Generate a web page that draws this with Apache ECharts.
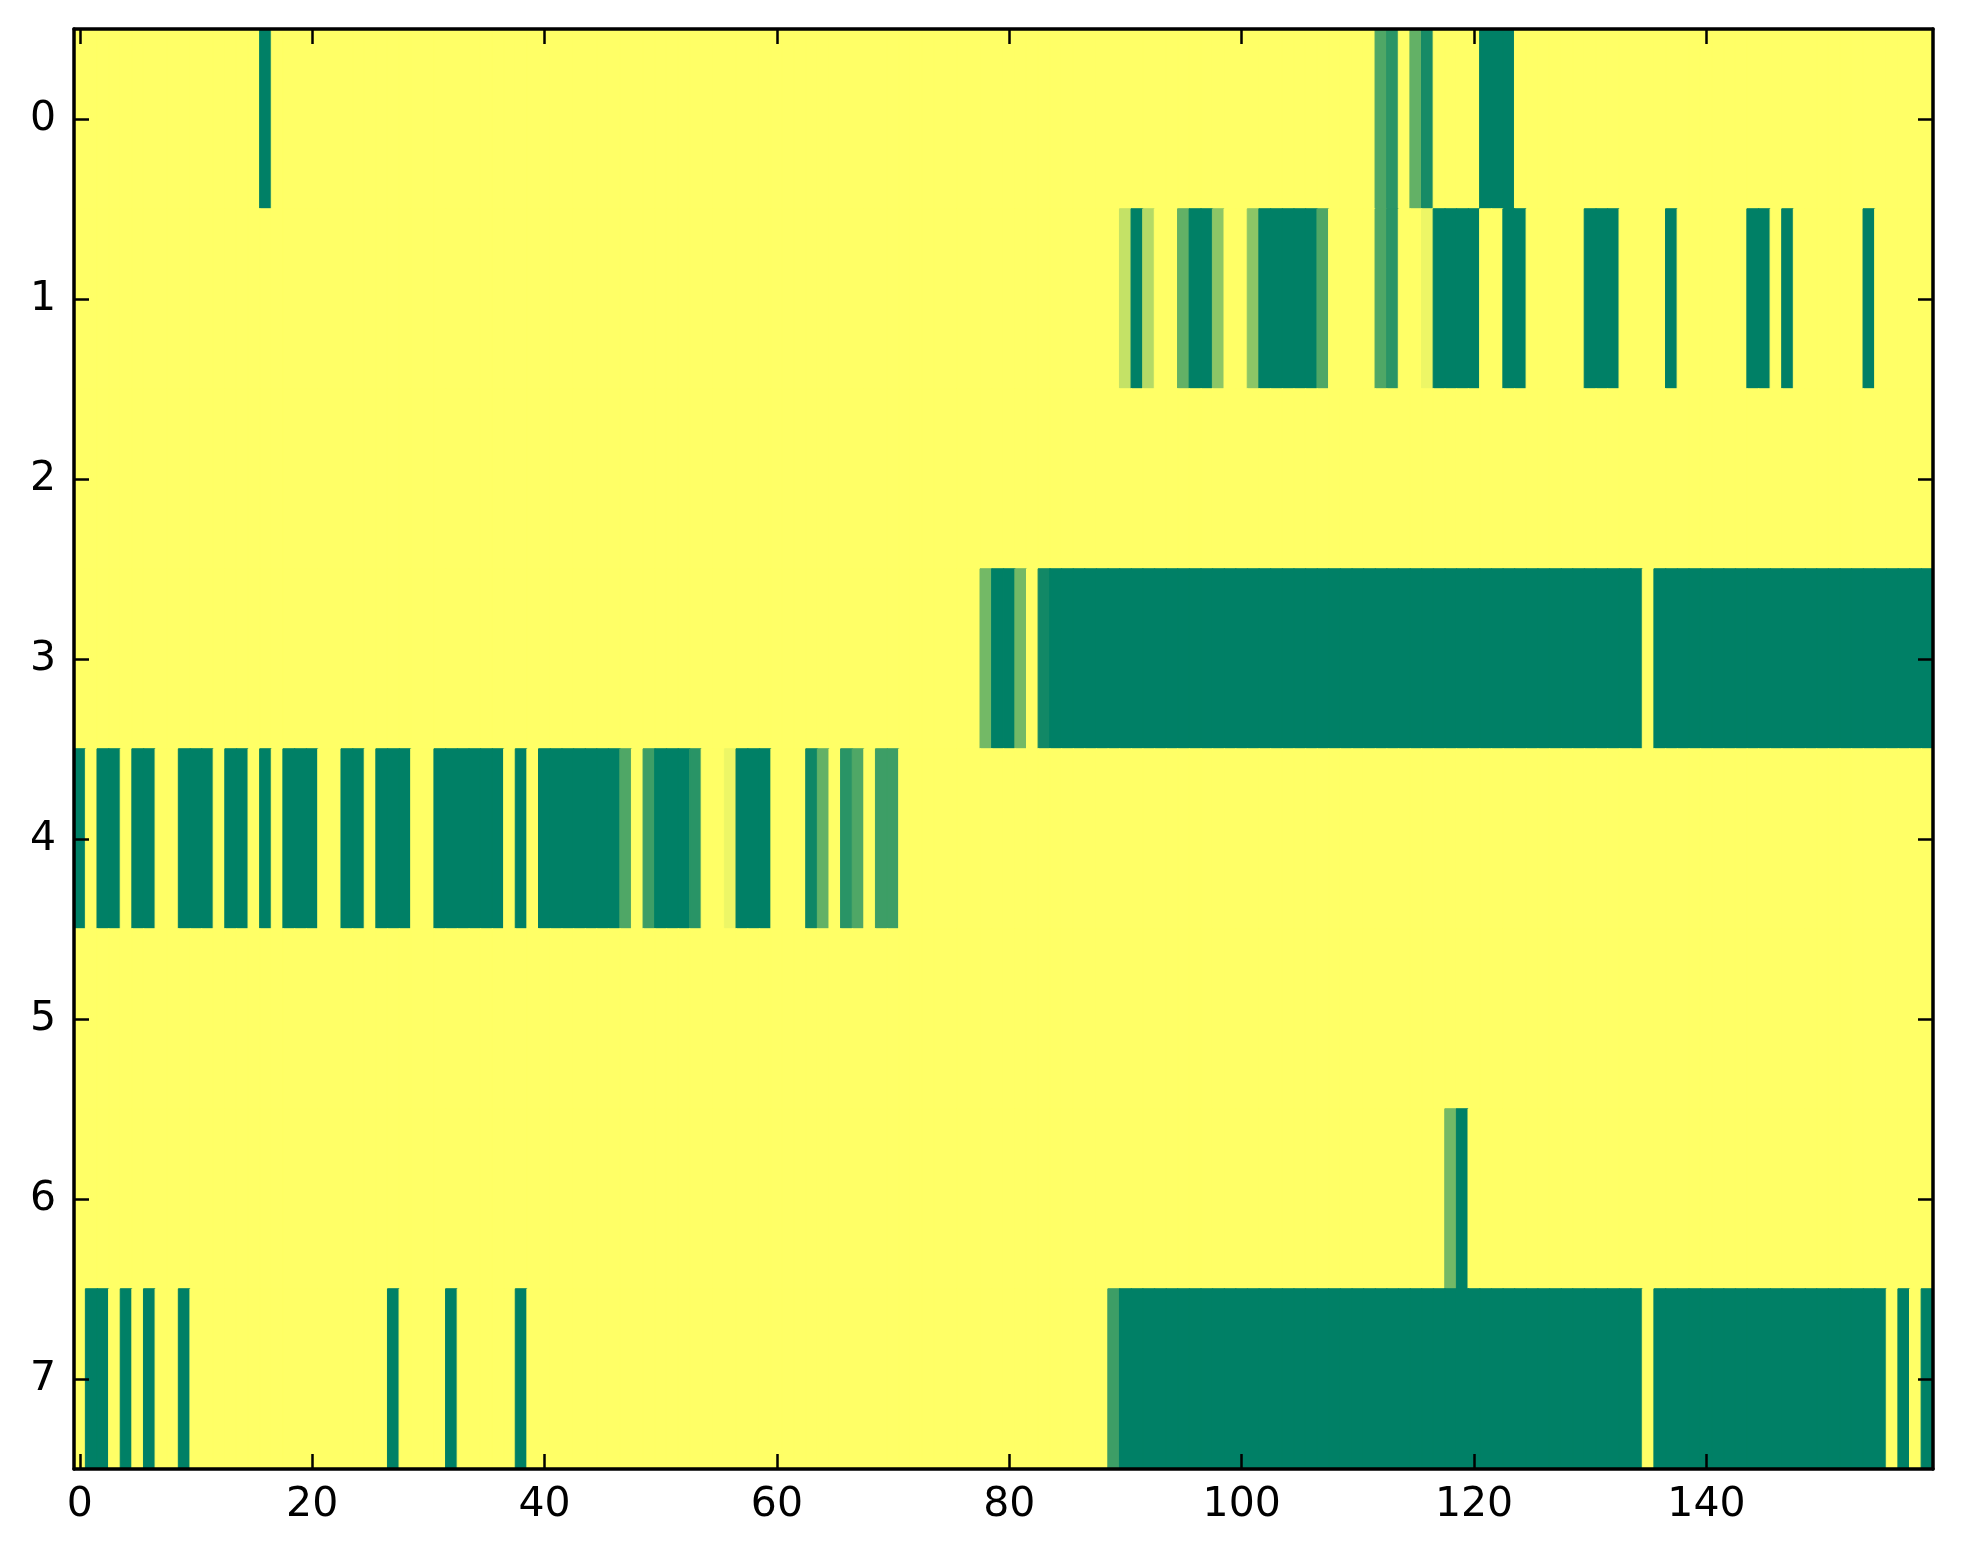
<!DOCTYPE html>
<html>
<head>
<meta charset="utf-8">
<script src="https://cdn.jsdelivr.net/npm/echarts@6/dist/echarts.min.js"></script>
<style>
  html, body { margin: 0; padding: 0; background: #ffffff; }
  #chart { width: 1963px; height: 1564px; }
</style>
</head>
<body>
<div id="chart"></div>
<script>
// Column categories 0..159 and row categories 0..7
var xCategories = [];
for (var i = 0; i < 160; i++) xCategories.push(String(i));
var yCategories = ['0', '1', '2', '3', '4', '5', '6', '7'];

// Cell values, one array per row (160 columns each)
var row0 = [
  0,0,0,0,0,0,0,0,0,0, 0,0,0,0,0,0,1,0,0,0,
  0,0,0,0,0,0,0,0,0,0, 0,0,0,0,0,0,0,0,0,0,
  0,0,0,0,0,0,0,0,0,0, 0,0,0,0,0,0,0,0,0,0,
  0,0,0,0,0,0,0,0,0,0, 0,0,0,0,0,0,0,0,0,0,
  0,0,0,0,0,0,0,0,0,0, 0,0,0,0,0,0,0,0,0,0,
  0,0,0,0,0,0,0,0,0,0, 0,0,0.69,0.83,0,0.61,0.91,0,0,0,
  0,1,1,1,0,0,0,0,0,0, 0,0,0,0,0,0,0,0,0,0,
  0,0,0,0,0,0,0,0,0,0, 0,0,0,0,0,0,0,0,0,0
];
var row1 = [
  0,0,0,0,0,0,0,0,0,0, 0,0,0,0,0,0,0,0,0,0,
  0,0,0,0,0,0,0,0,0,0, 0,0,0,0,0,0,0,0,0,0,
  0,0,0,0,0,0,0,0,0,0, 0,0,0,0,0,0,0,0,0,0,
  0,0,0,0,0,0,0,0,0,0, 0,0,0,0,0,0,0,0,0,0,
  0,0,0,0,0,0,0,0,0,0, 0.23,1,0.29,0,0,0.61,1,1,0.45,0,
  0,0.45,1,1,1,1,1,0.69,0,0, 0,0,0.69,0.83,0,0,0.07,1,1,1,
  1,0,0,1,1,0,0,0,0,0, 1,1,1,0,0,0,0,1,0,0,
  0,0,0,0,1,1,0,1,0,0, 0,0,0,0,1,0,0,0,0,0
];
var row2 = [
  0,0,0,0,0,0,0,0,0,0, 0,0,0,0,0,0,0,0,0,0,
  0,0,0,0,0,0,0,0,0,0, 0,0,0,0,0,0,0,0,0,0,
  0,0,0,0,0,0,0,0,0,0, 0,0,0,0,0,0,0,0,0,0,
  0,0,0,0,0,0,0,0,0,0, 0,0,0,0,0,0,0,0,0,0,
  0,0,0,0,0,0,0,0,0,0, 0,0,0,0,0,0,0,0,0,0,
  0,0,0,0,0,0,0,0,0,0, 0,0,0,0,0,0,0,0,0,0,
  0,0,0,0,0,0,0,0,0,0, 0,0,0,0,0,0,0,0,0,0,
  0,0,0,0,0,0,0,0,0,0, 0,0,0,0,0,0,0,0,0,0
];
var row3 = [
  0,0,0,0,0,0,0,0,0,0, 0,0,0,0,0,0,0,0,0,0,
  0,0,0,0,0,0,0,0,0,0, 0,0,0,0,0,0,0,0,0,0,
  0,0,0,0,0,0,0,0,0,0, 0,0,0,0,0,0,0,0,0,0,
  0,0,0,0,0,0,0,0,0,0, 0,0,0,0,0,0,0,0,0.55,1,
  1,0.55,0,0.93,1,1,1,1,1,1, 1,1,1,1,1,1,1,1,1,1,
  1,1,1,1,1,1,1,1,1,1, 1,1,1,1,1,1,1,1,1,1,
  1,1,1,1,1,1,1,1,1,1, 1,1,1,1,1,0,1,1,1,1,
  1,1,1,1,1,1,1,1,1,1, 1,1,1,1,1,1,1,1,1,1
];
var row4 = [
  1,0,1,1,0,1,1,0,0,1, 1,1,0,1,1,0,1,0,1,1,
  1,0,0,1,1,0,1,1,1,0, 0,1,1,1,1,1,1,0,1,0,
  1,1,1,1,1,1,1,0.69,0,0.76, 1,1,1,0.84,0,0,0.07,1,1,1,
  0,0,0,0.94,0.61,0,0.84,0.69,0,0.76, 0.76,0,0,0,0,0,0,0,0,0,
  0,0,0,0,0,0,0,0,0,0, 0,0,0,0,0,0,0,0,0,0,
  0,0,0,0,0,0,0,0,0,0, 0,0,0,0,0,0,0,0,0,0,
  0,0,0,0,0,0,0,0,0,0, 0,0,0,0,0,0,0,0,0,0,
  0,0,0,0,0,0,0,0,0,0, 0,0,0,0,0,0,0,0,0,0
];
var row5 = [
  0,0,0,0,0,0,0,0,0,0, 0,0,0,0,0,0,0,0,0,0,
  0,0,0,0,0,0,0,0,0,0, 0,0,0,0,0,0,0,0,0,0,
  0,0,0,0,0,0,0,0,0,0, 0,0,0,0,0,0,0,0,0,0,
  0,0,0,0,0,0,0,0,0,0, 0,0,0,0,0,0,0,0,0,0,
  0,0,0,0,0,0,0,0,0,0, 0,0,0,0,0,0,0,0,0,0,
  0,0,0,0,0,0,0,0,0,0, 0,0,0,0,0,0,0,0,0,0,
  0,0,0,0,0,0,0,0,0,0, 0,0,0,0,0,0,0,0,0,0,
  0,0,0,0,0,0,0,0,0,0, 0,0,0,0,0,0,0,0,0,0
];
var row6 = [
  0,0,0,0,0,0,0,0,0,0, 0,0,0,0,0,0,0,0,0,0,
  0,0,0,0,0,0,0,0,0,0, 0,0,0,0,0,0,0,0,0,0,
  0,0,0,0,0,0,0,0,0,0, 0,0,0,0,0,0,0,0,0,0,
  0,0,0,0,0,0,0,0,0,0, 0,0,0,0,0,0,0,0,0,0,
  0,0,0,0,0,0,0,0,0,0, 0,0,0,0,0,0,0,0,0,0,
  0,0,0,0,0,0,0,0,0,0, 0,0,0,0,0,0,0,0,0.55,1,
  0,0,0,0,0,0,0,0,0,0, 0,0,0,0,0,0,0,0,0,0,
  0,0,0,0,0,0,0,0,0,0, 0,0,0,0,0,0,0,0,0,0
];
var row7 = [
  0,1,1,0,1,0,1,0,0,1, 0,0,0,0,0,0,0,0,0,0,
  0,0,0,0,0,0,0,1,0,0, 0,0,1,0,0,0,0,0,1,0,
  0,0,0,0,0,0,0,0,0,0, 0,0,0,0,0,0,0,0,0,0,
  0,0,0,0,0,0,0,0,0,0, 0,0,0,0,0,0,0,0,0,0,
  0,0,0,0,0,0,0,0,0,0.76, 1,1,1,1,1,1,1,1,1,1,
  1,1,1,1,1,1,1,1,1,1, 1,1,1,1,1,1,1,1,1,1,
  1,1,1,1,1,1,1,1,1,1, 1,1,1,1,1,0,1,1,1,1,
  1,1,1,1,1,1,1,1,1,1, 1,1,1,1,1,1,0,1,0,1
];

var rows = [row0, row1, row2, row3, row4, row5, row6, row7];

// summer_r colour map: 0 -> #ffff66, 1 -> #008066 (linear)
function cmap(v) {
  var r = Math.round(255 * (1 - v));
  var g = Math.round(255 * (1 - 0.5 * v));
  var b = 102;
  return 'rgb(' + r + ',' + g + ',' + b + ')';
}

var cells = [];
for (var r = 0; r < rows.length; r++) {
  for (var c = 0; c < rows[r].length; c++) {
    var col = cmap(rows[r][c]);
    cells.push({
      value: [c, r, rows[r][c]],
      itemStyle: { color: col, borderColor: col, borderWidth: 1 }
    });
  }
}

var FONT = 'DejaVu Sans';
var every20 = function (idx) { return idx % 20 === 0; };
var tickStyle = { show: true, inside: true, length: 15, alignWithLabel: true,
                  lineStyle: { color: '#000', width: 2.5 } };
var lineStyle = { show: true, onZero: false, lineStyle: { color: '#000', width: 3.5 } };

var chart = echarts.init(document.getElementById('chart'), null, { renderer: 'canvas' });
chart.setOption({
  animation: false,
  backgroundColor: '#ffffff',
  grid: { left: 74, right: 30, top: 29, bottom: 95, containLabel: false },
  xAxis: [
    { type: 'category', data: xCategories, position: 'bottom', z: 10,
      axisLine: lineStyle,
      axisTick: Object.assign({}, tickStyle, { interval: every20 }),
      axisLabel: { interval: every20, margin: 16, color: '#000', fontFamily: FONT, fontSize: 41 },
      splitLine: { show: false } },
    { type: 'category', data: xCategories, position: 'top', z: 10,
      axisLine: lineStyle,
      axisTick: Object.assign({}, tickStyle, { interval: every20 }),
      axisLabel: { show: false },
      splitLine: { show: false } }
  ],
  yAxis: [
    { type: 'category', data: yCategories, inverse: true, position: 'left', z: 10,
      axisLine: lineStyle,
      axisTick: Object.assign({}, tickStyle, { interval: 0 }),
      axisLabel: { interval: 0, margin: 18, color: '#000', fontFamily: FONT, fontSize: 41 },
      splitLine: { show: false } },
    { type: 'category', data: yCategories, inverse: true, position: 'right', z: 10,
      axisLine: lineStyle,
      axisTick: Object.assign({}, tickStyle, { interval: 0 }),
      axisLabel: { show: false },
      splitLine: { show: false } }
  ],
  series: [{
    type: 'heatmap',
    xAxisIndex: 0,
    yAxisIndex: 0,
    data: cells,
    emphasis: { disabled: true },
    progressive: 0
  }]
});
</script>
</body>
</html>
